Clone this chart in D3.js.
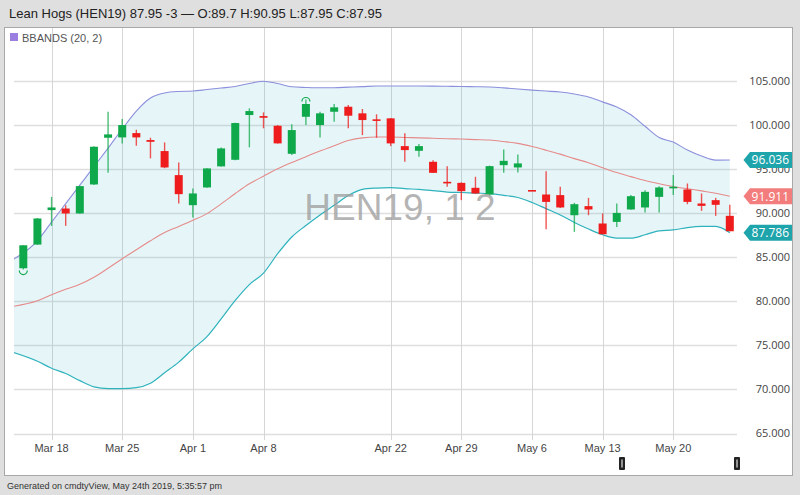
<!DOCTYPE html>
<html>
<head>
<meta charset="utf-8">
<script src="https://cdn.jsdelivr.net/npm/d3@7/dist/d3.min.js"></script>
<style>
  html, body { margin: 0; padding: 0; background: #dedede; }
  svg { display: block; }
</style>
</head>
<body>
<svg id="chart" width="800" height="495"></svg>
<script>
// ---------------- DATA ----------------
const dates = [
  "2019-03-14","2019-03-15","2019-03-18","2019-03-19","2019-03-20","2019-03-21","2019-03-22",
  "2019-03-25","2019-03-26","2019-03-27","2019-03-28","2019-03-29",
  "2019-04-01","2019-04-02","2019-04-03","2019-04-04","2019-04-05",
  "2019-04-08","2019-04-09","2019-04-10","2019-04-11","2019-04-12",
  "2019-04-15","2019-04-16","2019-04-17","2019-04-18",
  "2019-04-22","2019-04-23","2019-04-24","2019-04-25","2019-04-26",
  "2019-04-29","2019-04-30","2019-05-01","2019-05-02","2019-05-03",
  "2019-05-06","2019-05-07","2019-05-08","2019-05-09","2019-05-10",
  "2019-05-13","2019-05-14","2019-05-15","2019-05-16","2019-05-17",
  "2019-05-20","2019-05-21","2019-05-22","2019-05-23","2019-05-24"
];
const openValues = [
  83.75, 86.44, 90.35, 90.53, 89.97, 93.26, 98.56,
  98.60, 99.09, 98.30, 97.05, 94.32,
  90.91, 92.92, 95.31, 96.06, 101.14,
  101.02, 99.92, 96.74, 100.94, 100.00,
  101.51, 102.08, 101.33, 100.65,
  100.76, 97.61, 97.08, 95.83, 93.56,
  93.44, 92.88, 92.12, 95.45, 95.19,
  92.63, 92.12, 92.05, 89.77, 90.80,
  88.83, 89.01, 90.42, 90.65, 91.85,
  92.92, 92.69, 91.10, 91.48, 89.70
];
const highValues = [
  86.36, 89.45, 91.85, 90.90, 93.10, 97.60, 101.51,
  100.68, 99.47, 98.56, 98.03, 95.76,
  92.81, 95.10, 97.45, 100.25, 101.90,
  101.44, 100.00, 100.08, 102.90, 101.51,
  102.39, 102.27, 101.82, 101.22,
  100.80, 99.06, 97.84, 96.02, 95.34,
  93.50, 94.13, 95.40, 97.24, 96.67,
  92.63, 94.77, 92.99, 91.17, 91.74,
  89.97, 91.10, 92.05, 92.61, 93.07,
  94.32, 93.37, 92.24, 91.74, 90.95
];
const lowValues = [
  83.60, 86.40, 88.55, 88.56, 89.95, 93.20, 94.58,
  97.92, 97.65, 96.22, 95.10, 91.10,
  89.51, 92.90, 95.30, 96.00, 97.47,
  99.63, 97.90, 96.59, 100.00, 98.60,
  100.38, 99.63, 98.86, 98.56,
  97.61, 95.83, 96.40, 94.55, 92.99,
  91.48, 92.20, 92.00, 94.58, 94.63,
  92.60, 88.18, 90.60, 87.88, 89.77,
  87.60, 88.44, 90.40, 90.08, 90.08,
  92.05, 91.02, 90.26, 89.69, 87.95
];
const closeValues = [
  86.36, 89.40, 90.65, 89.97, 93.07, 97.54, 98.94,
  100.00, 98.60, 98.10, 95.19, 92.16,
  92.24, 95.08, 97.35, 100.23, 101.59,
  100.83, 97.92, 99.43, 102.39, 101.33,
  102.01, 101.06, 100.57, 100.49,
  97.92, 97.16, 97.61, 94.58, 93.41,
  92.50, 92.24, 95.34, 95.94, 95.65,
  92.60, 91.28, 90.65, 91.02, 90.42,
  87.61, 90.03, 91.93, 92.42, 92.92,
  93.00, 91.28, 90.83, 90.95, 87.95
];
// Bollinger bands (20, 2)
const upperBand = [
  84.77, 86.87, 88.98, 91.08, 93.18, 95.28, 97.39,
  99.55, 101.59, 103.07, 103.64, 103.81,
  103.86, 104.03, 104.20, 104.38, 104.72,
  104.98, 104.72, 104.34, 104.27, 104.23,
  104.24, 104.30, 104.36, 104.43,
  104.43, 104.43, 104.43, 104.42, 104.40,
  104.38, 104.35, 104.32, 104.22, 104.09,
  103.97, 103.86, 103.75, 103.52, 103.19,
  102.63, 102.05, 101.17, 99.86, 98.58,
  98.07, 97.16, 96.48, 96.02, 96.036
];
const middleBand = [
  79.43, 80.06, 80.74, 81.36, 81.93, 82.73, 83.75,
  84.83, 85.85, 86.87, 87.80, 88.49,
  89.20, 89.95, 91.06, 92.23, 93.33,
  94.20, 95.03, 95.75, 96.41, 97.05,
  97.65, 98.24, 98.55, 98.64,
  98.64, 98.59, 98.55, 98.50, 98.45,
  98.41, 98.35, 98.30, 98.13, 97.92,
  97.57, 97.15, 96.70, 96.19, 95.73,
  95.16, 94.61, 94.15, 93.70, 93.34,
  93.03, 92.77, 92.53, 92.27, 91.911
];
const lowerBand = [
  74.20, 73.20, 72.40, 71.80, 71.00, 70.30, 70.10,
  70.10, 70.20, 70.70, 71.90, 73.10,
  74.60, 76.00, 78.00, 80.10, 81.90,
  83.20, 85.40, 87.30, 88.60, 89.80,
  90.90, 92.00, 92.70, 92.85,
  92.90, 92.78, 92.70, 92.56, 92.40,
  92.35, 92.28, 92.22, 92.03, 91.78,
  91.22, 90.52, 89.80, 88.95, 88.20,
  87.55, 87.17, 87.16, 87.55, 88.00,
  88.10, 88.37, 88.50, 88.50, 87.786
];
const yTickValues = [65, 70, 75, 80, 85, 90, 95, 100, 105];
const xTickDates = ["2019-03-18","2019-03-25","2019-04-01","2019-04-08","2019-04-22","2019-04-29","2019-05-06","2019-05-13","2019-05-20"];
const xTickLabels = ["Mar 18","Mar 25","Apr 1","Apr 8","Apr 22","Apr 29","May 6","May 13","May 20"];
const titleText = "Lean Hogs (HEN19) 87.95 -3 \u2014 O:89.7 H:90.95 L:87.95 C:87.95";
const legendText = "BBANDS (20, 2)";
const watermarkText = "HEN19, 1 2";
const footerText = "Generated on cmdtyView, May 24th 2019, 5:35:57 pm";

// ---------------- DRAW ----------------
const svg = d3.select("#chart");
const W = 800, H = 495;
const green = "#0fa84b", red = "#ee1c1c";
const upperColor = "#8c8fdc", midColor = "#e68a8a", lowerColor = "#2fb2bc";

svg.append("rect").attr("width", W).attr("height", H).attr("fill", "#dfdfdf");
svg.append("rect").attr("x", 4.5).attr("y", 27.5).attr("width", 788).attr("height", 448)
  .attr("fill", "#fff").attr("stroke", "#a8a8a8");

const x = d3.scalePoint().domain(dates).range([23.3, 729.8]);
const step = x.step();
const y = d3.scaleLinear().domain([65, 105]).range([433.5, 81]);

const gridLeft = 14, gridRight = 737;

// horizontal gridlines
svg.append("g").selectAll("line").data(yTickValues).join("line")
  .attr("x1", gridLeft).attr("x2", gridRight)
  .attr("y1", d => Math.round(y(d)) + 0.5).attr("y2", d => Math.round(y(d)) + 0.5)
  .attr("stroke", "#dedede").attr("stroke-width", 1.5);

// vertical gridlines
svg.append("g").selectAll("line").data(xTickDates).join("line")
  .attr("x1", d => Math.round(x(d)) + 0.5).attr("x2", d => Math.round(x(d)) + 0.5)
  .attr("y1", 28).attr("y2", 440)
  .attr("stroke", "#d6d6d6").attr("stroke-width", 1);

// clip for plot area
svg.append("defs").append("clipPath").attr("id", "plotclip")
  .append("rect").attr("x", gridLeft).attr("y", 28).attr("width", gridRight - gridLeft).attr("height", 410);

const plot = svg.append("g").attr("clip-path", "url(#plotclip)");

const bx = i => i === 0 ? x(dates[0]) - step * 0.7 : x(dates[i]);
const idx = d3.range(dates.length);

const area = d3.area().curve(d3.curveMonotoneX)
  .x(i => bx(i)).y0(i => y(lowerBand[i])).y1(i => y(upperBand[i]));
plot.append("path").datum(idx).attr("d", area)
  .attr("fill", "#3db7c6").attr("fill-opacity", 0.13);

// watermark
svg.append("text").attr("x", 400).attr("y", 220).attr("text-anchor", "middle")
  .attr("font-family", "Liberation Sans, Arial, sans-serif").attr("font-size", 37)
  .attr("fill", "#9c9c9c").attr("fill-opacity", 0.75).text(watermarkText);

const lineFor = arr => d3.line().curve(d3.curveMonotoneX).x(i => bx(i)).y(i => y(arr[i]));
plot.append("path").datum(idx).attr("d", lineFor(upperBand)).attr("fill", "none").attr("stroke", upperColor).attr("stroke-width", 1.1);
plot.append("path").datum(idx).attr("d", lineFor(middleBand)).attr("fill", "none").attr("stroke", midColor).attr("stroke-width", 1.1);
plot.append("path").datum(idx).attr("d", lineFor(lowerBand)).attr("fill", "none").attr("stroke", lowerColor).attr("stroke-width", 1.2);

// candles
const candles = idx.map(i => ({ d: dates[i], o: openValues[i], h: highValues[i], l: lowValues[i], c: closeValues[i] }));
const cg = plot.append("g");
const col = k => k.c >= k.o ? green : red;
cg.selectAll("line.wick").data(candles).join("line").attr("class", "wick")
  .attr("x1", k => x(k.d)).attr("x2", k => x(k.d))
  .attr("y1", k => y(k.h)).attr("y2", k => y(k.l))
  .attr("stroke", col).attr("stroke-opacity", 0.75).attr("stroke-width", 1.4);
const bw = 8;
cg.selectAll("rect.body").data(candles).join("rect").attr("class", "body")
  .attr("x", k => x(k.d) - bw / 2).attr("width", bw)
  .attr("y", k => Math.min(y(k.o), y(k.c)))
  .attr("height", k => Math.max(1.6, Math.abs(y(k.o) - y(k.c))))
  .attr("fill", col);

// max high / min low markers
const maxK = candles.reduce((a, b) => b.h > a.h ? b : a);
const minK = candles.reduce((a, b) => b.l < a.l ? b : a);
cg.append("path")
  .attr("d", `M${x(maxK.d) - 4},${y(maxK.h) + 2} A4,4 0 0 1 ${x(maxK.d) + 4},${y(maxK.h) + 2}`)
  .attr("fill", "none").attr("stroke", col(maxK)).attr("stroke-width", 1.2);
cg.append("path")
  .attr("d", `M${x(minK.d) - 4},${y(minK.l) + 1} A4,4 0 0 0 ${x(minK.d) + 4},${y(minK.l) + 1}`)
  .attr("fill", "none").attr("stroke", col(minK)).attr("stroke-width", 1.2);

// y axis labels (right)
const fmt = d3.format(".3f");
svg.append("g").selectAll("text").data(yTickValues).join("text")
  .attr("x", 790).attr("y", d => y(d)).attr("dy", "0.35em").attr("text-anchor", "end")
  .attr("font-family", "Open Sans, sans-serif").attr("font-size", 11).attr("fill", "#444")
  .text(d => fmt(d));

// x labels
svg.append("g").selectAll("text").data(xTickDates).join("text")
  .attr("x", d => x(d)).attr("y", 452).attr("text-anchor", "middle")
  .attr("font-family", "Liberation Sans, Arial, sans-serif").attr("font-size", 11).attr("fill", "#444")
  .text((d, i) => xTickLabels[i]);

// last-value badges
const badges = [
  { v: upperBand[upperBand.length - 1], c: "#1ea4ab" },
  { v: middleBand[middleBand.length - 1], c: "#f37c7c" },
  { v: lowerBand[lowerBand.length - 1], c: "#1ea4ab" }
];
const bg = svg.append("g");
badges.forEach(b => {
  const yc = y(b.v);
  bg.append("path")
    .attr("d", `M743.5,${yc} L750,${yc - 8} L792,${yc - 8} L792,${yc + 8} L750,${yc + 8} Z`)
    .attr("fill", b.c);
  bg.append("text").attr("x", 789).attr("y", yc).attr("dy", "0.36em").attr("text-anchor", "end")
    .attr("font-family", "Open Sans, sans-serif").attr("font-size", 12).attr("fill", "#fff")
    .text(fmt(b.v));
});

// range-selector handles (decorative UI)
[622, 737].forEach(cx => {
  svg.append("rect").attr("x", cx - 3).attr("y", 457).attr("width", 6).attr("height", 13).attr("fill", "#222").attr("rx", 1);
  svg.append("rect").attr("x", cx - 0.75).attr("y", 459.5).attr("width", 1.5).attr("height", 8).attr("fill", "#bbb");
});

// legend
svg.append("rect").attr("x", 10).attr("y", 33).attr("width", 8).attr("height", 8).attr("fill", "#9b7fe0");
svg.append("text").attr("x", 22).attr("y", 41.5)
  .attr("font-family", "Liberation Sans, Arial, sans-serif").attr("font-size", 11).attr("fill", "#555")
  .text(legendText);

// title
svg.append("text").attr("x", 9).attr("y", 17.5)
  .attr("font-family", "Liberation Sans, Arial, sans-serif").attr("font-size", 13).attr("fill", "#222")
  .text(titleText);

// footer
svg.append("text").attr("x", 7).attr("y", 489)
  .attr("font-family", "Liberation Sans, Arial, sans-serif").attr("font-size", 9).attr("fill", "#333")
  .text(footerText);
</script>
</body>
</html>
